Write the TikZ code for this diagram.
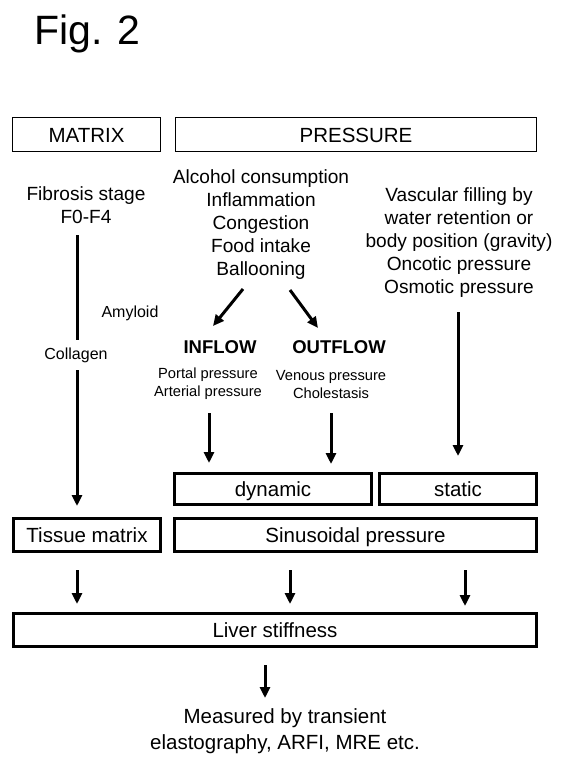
\documentclass[tikz,border=0pt]{standalone}
\usepackage{fontspec}
\setmainfont{Liberation Sans}
\usetikzlibrary{arrows.meta}
\begin{document}
\begin{tikzpicture}[x=1pt,y=-1pt,
  thinbox/.style={draw,line width=1.3pt,inner sep=0pt,text height=17pt,text depth=2pt,font=\fontsize{20.5}{24}\selectfont},
  thickbox/.style={draw,line width=3pt,inner sep=0pt,minimum height=31pt,text height=17pt,text depth=2pt,font=\fontsize{20.5}{24}\selectfont},
  txt/.style={align=center,inner sep=0pt,font=\fontsize{19.1}{23}\selectfont},
  small/.style={align=center,inner sep=0pt,font=\fontsize{14.7}{18}\selectfont},
  label/.style={inner sep=0pt,font=\fontsize{16}{19}\selectfont},
  flow/.style={inner sep=0pt,font=\fontsize{18.5}{22}\selectfont\bfseries},
  arr/.style={line width=3pt,-{Triangle[width=10pt,length=11pt]}}]
\useasboundingbox (0,0) rectangle (567,776);
\fill[white] (0,0) rectangle (567,776);

\node[anchor=base west,inner sep=0pt,font=\fontsize{41}{48}\selectfont] (fig) at (34,45) {Fig. 2};

\node[thinbox,minimum width=147.7pt,minimum height=33.7pt] (matrix) at (86.5,134.5) {MATRIX};
\node[thinbox,minimum width=360.7pt,minimum height=33.7pt] (pressure) at (356,134.5) {PRESSURE};

\node[txt] (fib) at (86,205) {Fibrosis stage\\F0-F4};
\node[txt] (alc) at (261,225) {Alcohol consumption\\Inflammation\\Congestion\\Food intake\\Ballooning};
\node[txt] (vasc) at (459,243) {Vascular filling by\\water retention or\\body position (gravity)\\Oncotic pressure\\Osmotic pressure};

\node[label] (amyloid) at (130,313) {Amyloid};

\node[flow] (inflow) at (220,347) {INFLOW};
\node[flow] (outflow) at (339,347) {OUTFLOW};
\node[small] (inf) at (208,384) {Portal pressure\\Arterial pressure};
\node[small] (outf) at (331,385) {Venous pressure\\Cholestasis};

\node[thickbox,minimum width=197pt] (dynamic) at (273,488.5) {dynamic};
\node[thickbox,minimum width=157pt] (static) at (458,488.5) {static};
\node[thickbox,minimum width=147pt,minimum height=33pt] (tissue) at (87,535) {Tissue matrix};
\node[thickbox,minimum width=362pt,minimum height=33pt] (sinus) at (355.5,535) {Sinusoidal pressure};
\node[thickbox,minimum width=523pt,minimum height=33pt] (liver) at (275,630) {Liver stiffness};

\node[align=center,inner sep=0pt,font=\fontsize{20.5}{25.5}\selectfont] (meas) at (285,731) {Measured by transient\\elastography, ARFI, MRE etc.};

% arrow end points
\coordinate (m1) at (77,235);  \coordinate (m2) at (77,506);
\coordinate (d1a) at (243,289); \coordinate (d1b) at (213,326);
\coordinate (d2a) at (290,290); \coordinate (d2b) at (318,328);
\coordinate (i1) at (209,413); \coordinate (i2) at (209,463);
\coordinate (o1) at (331,413); \coordinate (o2) at (331,464);
\coordinate (s1) at (458,312); \coordinate (s2) at (458,456);
\coordinate (t1) at (77,570);  \coordinate (t2) at (77,604);
\coordinate (p1) at (290,570); \coordinate (p2) at (290,604);
\coordinate (q1) at (465,570); \coordinate (q2) at (465,606);
\coordinate (l1) at (265,665); \coordinate (l2) at (265,698);

\draw[arr] (m1) -- (m2);
\node[label,fill=white,inner xsep=2pt,inner ysep=8pt] (collagen) at (76,355) {Collagen};
\draw[arr] (d1a) -- (d1b);
\draw[arr] (d2a) -- (d2b);
\draw[arr] (i1) -- (i2);
\draw[arr] (o1) -- (o2);
\draw[arr] (s1) -- (s2);
\draw[arr] (t1) -- (t2);
\draw[arr] (p1) -- (p2);
\draw[arr] (q1) -- (q2);
\draw[arr] (l1) -- (l2);
\end{tikzpicture}
\end{document}
